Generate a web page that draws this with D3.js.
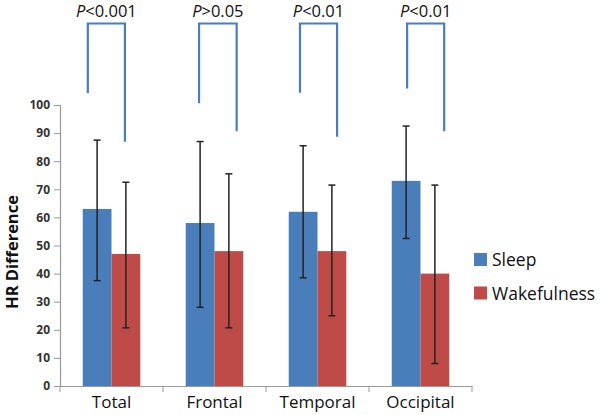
<!DOCTYPE html>
<html>
<head>
<meta charset="utf-8">
<script src="https://d3js.org/d3.v7.min.js"></script>
<style>
  body { margin: 0; background: #fff; }
  text { font-family: "Open Sans", sans-serif; }
</style>
</head>
<body>
<svg id="mainSvg" width="600" height="415"></svg>
<script>
// data
let categories = ['Total', 'Frontal', 'Temporal', 'Occipital'];
let series = ['Sleep', 'Wakefulness'];
let sleepMean = [63, 58, 62, 73];
let sleepLow = [37.5, 28, 38.5, 52.5];
let sleepHigh = [87.5, 87, 85.5, 92.5];
let wakeMean = [47, 48, 48, 40];
let wakeLow = [20.7, 20.7, 25, 8];
let wakeHigh = [72.5, 75.5, 71.5, 71.5];
let yTicks = [0, 10, 20, 30, 40, 50, 60, 70, 80, 90, 100];

// significance brackets (value units, x as fraction of a category band)
let pLabels = ['<0.001', '>0.05', '<0.01', '<0.01'];
let bracketLeft = [0.27, 0.35, 0.33, 0.37];
let bracketRight = [0.63, 0.715, 0.69, 0.73];
let bracketTop = [129, 129, 129, 129];
let bracketLeftEnd = [104.3, 100.6, 104.4, 105.9];
let bracketRightEnd = [86.9, 90.7, 88.7, 90.7];

let colors = ['#4a7ebb', '#be4b48'];

let svg = d3.select('#mainSvg');

let x0 = d3.scaleBand().domain(categories).range([60, 472]);
let x1 = d3.scaleBand().domain(series).range([0, x0.bandwidth()]).paddingOuter(0.79);
let y = d3.scaleLinear().domain([0, 100]).range([386, 105]);
let color = d3.scaleOrdinal().domain(series).range(colors);

let rows = categories.map((c, i) => ({
  cat: c,
  vals: [
    {s: 'Sleep', v: sleepMean[i], lo: sleepLow[i], hi: sleepHigh[i]},
    {s: 'Wakefulness', v: wakeMean[i], lo: wakeLow[i], hi: wakeHigh[i]}
  ]
}));

// y axis
let yAxis = svg.append('g')
  .attr('transform', 'translate(60,0)')
  .call(d3.axisLeft(y).tickValues(yTicks).tickSize(6).tickPadding(4));
yAxis.select('.domain').attr('stroke', '#999').attr('stroke-width', 1.2);
yAxis.selectAll('.tick line').attr('stroke', '#999');
yAxis.selectAll('.tick text')
  .style('font-family', '"Open Sans", sans-serif')
  .style('font-size', '12px')
  .style('font-weight', 'bold')
  .attr('fill', '#333');

svg.append('text')
  .attr('transform', 'translate(18,252) rotate(-90)')
  .attr('text-anchor', 'middle')
  .style('font-size', '16.5px')
  .style('font-weight', 'bold')
  .attr('fill', '#111')
  .text('HR Difference');

// bars
let groups = svg.append('g').selectAll('g')
  .data(rows)
  .join('g')
  .attr('transform', d => 'translate(' + x0(d.cat) + ',0)');

groups.selectAll('rect')
  .data(d => d.vals)
  .join('rect')
  .attr('x', d => x1(d.s))
  .attr('width', x1.bandwidth())
  .attr('y', d => y(d.v))
  .attr('height', d => y(0) - y(d.v))
  .attr('fill', d => color(d.s));

// error bars
let err = groups.selectAll('g.err')
  .data(d => d.vals)
  .join('g')
  .attr('class', 'err')
  .attr('transform', d => 'translate(' + (x1(d.s) + x1.bandwidth() / 2) + ',0)');
err.append('line')
  .attr('y1', d => y(d.lo)).attr('y2', d => y(d.hi))
  .attr('stroke', '#222').attr('stroke-width', 1.5);
err.selectAll('line.cap')
  .data(d => [d.lo, d.hi])
  .join('line')
  .attr('class', 'cap')
  .attr('x1', -3.5).attr('x2', 3.5)
  .attr('y1', d => y(d)).attr('y2', d => y(d))
  .attr('stroke', '#222').attr('stroke-width', 1.5);

// x axis
let xAxis = svg.append('g')
  .attr('transform', 'translate(0,386)')
  .call(d3.axisBottom(x0).tickSize(0).tickPadding(10));
xAxis.select('.domain').attr('stroke', '#999').attr('stroke-width', 1.2);
xAxis.selectAll('.tick text')
  .style('font-family', '"Open Sans", sans-serif')
  .style('font-size', '17px')
  .attr('fill', '#111');
xAxis.selectAll('line.sep')
  .data(categories.concat(['end']))
  .join('line')
  .attr('class', 'sep')
  .attr('x1', (d, i) => i < categories.length ? x0(d) : x0.range()[1])
  .attr('x2', (d, i) => i < categories.length ? x0(d) : x0.range()[1])
  .attr('y1', 0).attr('y2', 6)
  .attr('stroke', '#999');

// brackets
let br = svg.append('g').selectAll('g')
  .data(categories)
  .join('g');
br.append('path')
  .attr('d', (d, i) => {
    let xl = x0(d) + bracketLeft[i] * x0.bandwidth();
    let xr = x0(d) + bracketRight[i] * x0.bandwidth();
    return 'M' + xl + ',' + y(bracketLeftEnd[i]) + 'V' + y(bracketTop[i]) +
      'H' + xr + 'V' + y(bracketRightEnd[i]);
  })
  .attr('fill', 'none')
  .attr('stroke', '#4a7ebb')
  .attr('stroke-width', 2.2);
let pt = br.append('text')
  .attr('x', (d, i) => x0(d) + (bracketLeft[i] + bracketRight[i]) / 2 * x0.bandwidth())
  .attr('y', 17)
  .attr('text-anchor', 'middle')
  .style('font-size', '16.5px')
  .attr('fill', '#111');
pt.append('tspan').style('font-style', 'italic').text('P');
pt.append('tspan').text((d, i) => pLabels[i]);

// legend
let lg = svg.append('g').selectAll('g')
  .data(series)
  .join('g')
  .attr('transform', (d, i) => 'translate(474,' + (253 + i * 33.5) + ')');
lg.append('rect')
  .attr('width', 13).attr('height', 13)
  .attr('fill', d => color(d));
lg.append('text')
  .attr('x', 18).attr('y', 13)
  .style('font-size', '17.5px')
  .attr('fill', '#111')
  .text(d => d);
</script>
</body>
</html>
